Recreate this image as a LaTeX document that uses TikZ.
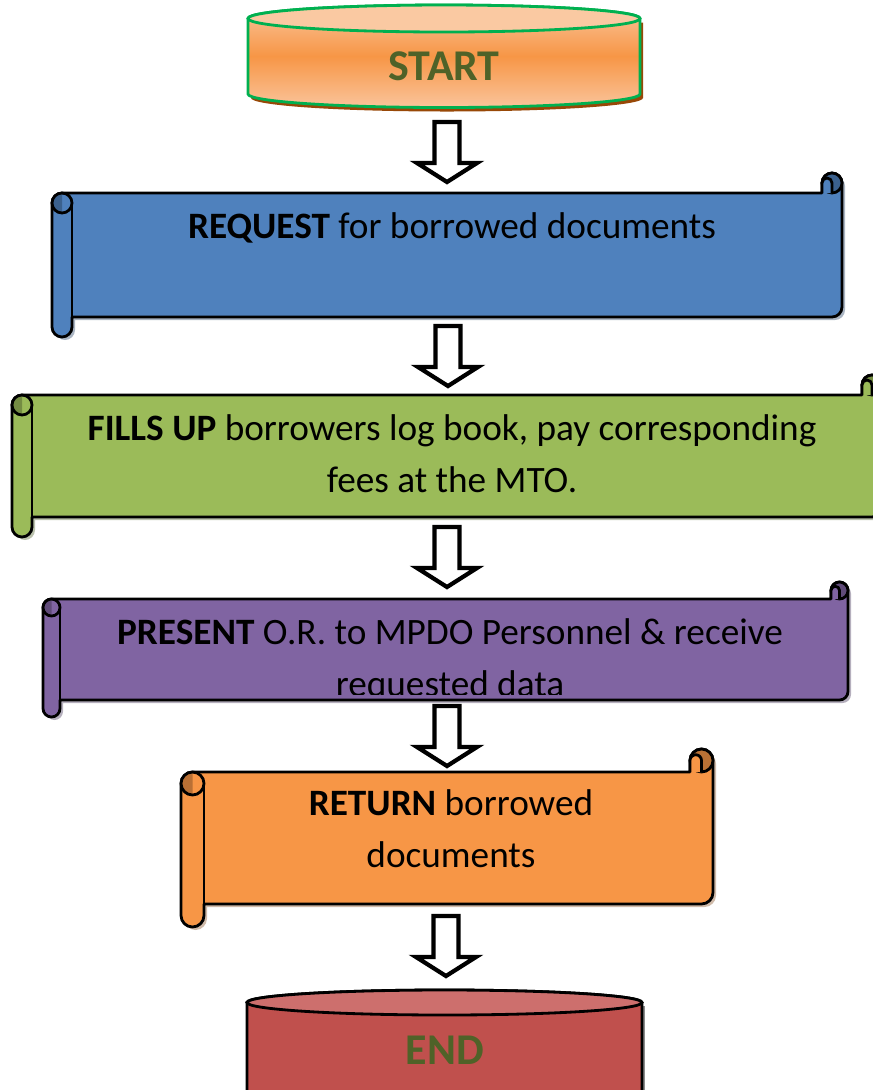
\documentclass[tikz,border=0pt]{standalone}
\usepackage{fontspec}
\setmainfont{Carlito}
\usepackage{xcolor}
\usepackage{tikz}
\usetikzlibrary{positioning,calc}

\definecolor{reqblue}{HTML}{4F81BD}
\definecolor{fillgreen}{HTML}{9BBB59}
\definecolor{presviolet}{HTML}{8064A2}
\definecolor{retorange}{HTML}{F79646}
\definecolor{startcap}{HTML}{FAC9A2}
\definecolor{startlight}{HTML}{FAC49B}
\definecolor{startline}{HTML}{00B050}
\definecolor{startshadow}{HTML}{984807}
\definecolor{endred}{HTML}{C0504D}
\definecolor{endcap}{HTML}{CD6F6D}
\definecolor{labelgreen}{HTML}{4F6228}

% outline of a horizontal scroll: left, top, right, bottom, curl size
\newcommand{\scrollpath}[5]{(#1,#2+1.5*#5) arc[start angle=180,end angle=270,radius=#5/2] -- (#3-#5,#2+#5) -- (#3-#5,#2+#5/2) arc[start angle=180,end angle=360,radius=#5/2] -- (#3,#4-1.5*#5) arc[start angle=0,end angle=90,radius=#5/2] -- (#1+#5,#4-#5) -- (#1+#5,#4-#5/2) arc[start angle=0,end angle=180,radius=#5/2] -- cycle}

% whole scroll with shadow, curl and roll
\newcommand{\scrollbox}[6]{%
  \fill[#6!55!black, opacity=0.4, shift={(3,3)}] \scrollpath{#1}{#2}{#3}{#4}{#5};
  \draw[scrolledge, fill=#6] \scrollpath{#1}{#2}{#3}{#4}{#5};
  \draw[scrolledge, fill=#6!75!black] (#3-#5/2,#2+#5/2) circle[radius=#5/2]; % curl
  \draw[scrolledge, fill=#6] (#3-#5,#2+#5) -- (#3-#5,#2+#5/2) arc[start angle=180,end angle=360,radius=#5/4] -- (#3-#5/2,#2+#5);
  \fill[#6!75!black] (#1+#5/2,#2+#5) arc[start angle=270,end angle=90,radius=#5/2] -- cycle; % roll
  \draw[scrolledge] (#1+#5/2,#2+1.5*#5) circle[radius=#5/2];
  \draw[scrolledge] (#1+#5,#2+1.5*#5) -- (#1+#5,#4-#5);
}

% hollow block arrow pointing down from a coordinate
\newcommand{\hollowarrow}[1]{%
  \draw[arrowedge, shift={(#1)}] (-12.5,0) -- (12.5,0) -- (12.5,41) -- (30,41) -- (0,60) -- (-30,41) -- (-12.5,41) -- cycle;
}

\begin{document}
\begin{tikzpicture}[x=0.02cm, y=-0.02cm,
    scrolledge/.style={line width=1.6pt, line join=round},
    arrowedge/.style={line width=2.4pt, fill=white, line join=miter},
    steptext/.style={font=\fontsize{21.2}{29.6}\selectfont, align=center, inner sep=0pt},
    termtext/.style={font=\fontsize{25}{30}\selectfont\bfseries, text=labelgreen, inner sep=0pt}]
    \useasboundingbox (0,0) rectangle (873,1090);
    \clip (0,0) rectangle (873,1090);

    % START cylinder
    \fill[startshadow, shift={(3,4)}] (248,18.5) -- (248,94) arc[start angle=180,end angle=0,x radius=196,y radius=13.5] -- (640,18.5) -- cycle;
    \draw[line width=1.6pt, startline, top color=startlight, bottom color=startlight, middle color=retorange]
        (248,18.5) -- (248,94) arc[start angle=180,end angle=0,x radius=196,y radius=13.5]
        -- (640,18.5) arc[start angle=0,end angle=-180,x radius=196,y radius=13.5] -- cycle;
    \draw[line width=1.6pt, startline, fill=startcap] (444,18.5) ellipse[x radius=196, y radius=13.5];
    \node[termtext] (start) at (444,66) {START};

    % steps
    \scrollbox{52}{173}{842}{337}{20}{reqblue}
    \node[steptext] (request) at (452,228) {\textbf{REQUEST} for borrowed documents};

    \scrollbox{12}{375}{882}{537}{20}{fillgreen}
    \node[steptext] (fillsup) at (452,454) {\textbf{FILLS UP} borrowers log book, pay corresponding\\fees at the MTO.};

    \scrollbox{43}{582}{848}{717}{17}{presviolet}
    \begin{scope}
        \clip (70,599) rectangle (840,694);
        \node[steptext] (present) at (450,661) {\textbf{PRESENT} O.R. to MPDO Personnel \& receive\\requested data};
    \end{scope}

    \scrollbox{181}{749}{713}{927}{23}{retorange}
    \node[steptext] (return) at (451,829) {\textbf{RETURN} borrowed\\documents};

    % END cylinder
    \fill[black!45, shift={(3,3)}] (247,1002.5) -- (247,1100) -- (642,1100) -- (642,1002.5) -- cycle;
    \draw[line width=1.6pt, fill=endred] (247,1002.5) -- (247,1100) -- (642,1100) -- (642,1002.5)
        arc[start angle=0,end angle=-180,x radius=197.5,y radius=12.5] -- cycle;
    \draw[line width=1.6pt, fill=endcap] (444.5,1002.5) ellipse[x radius=197.5, y radius=12.5];
    \node[termtext] (end) at (445,1050) {END};

    % arrows between the steps
    \coordinate (arr1) at (447,122);
    \coordinate (arr2) at (448,326);
    \coordinate (arr3) at (447,527);
    \coordinate (arr4) at (447,706);
    \coordinate (arr5) at (446,916);
    \hollowarrow{arr1}
    \hollowarrow{arr2}
    \hollowarrow{arr3}
    \hollowarrow{arr4}
    \hollowarrow{arr5}
\end{tikzpicture}
\end{document}
